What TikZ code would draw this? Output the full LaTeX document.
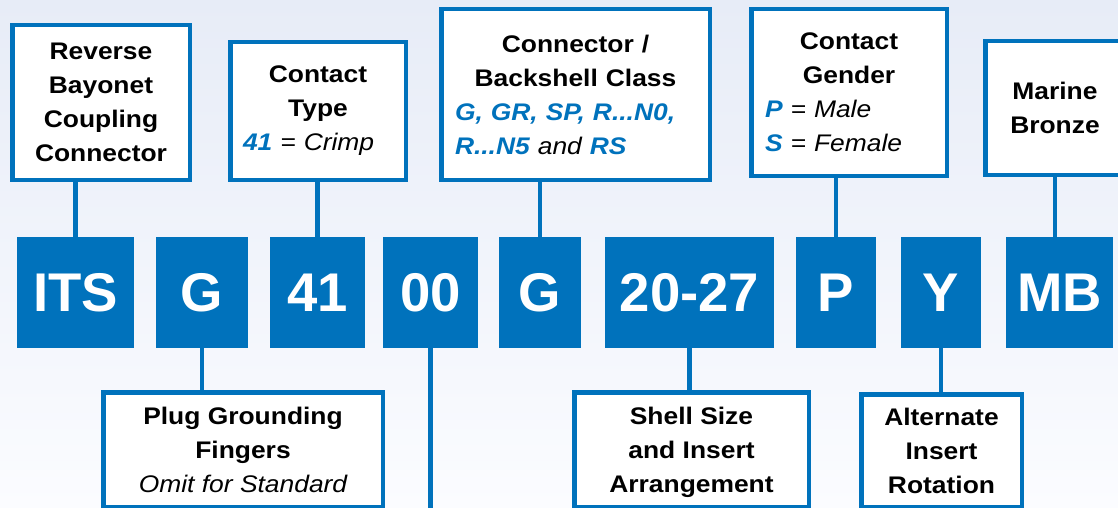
\documentclass[tikz,border=0pt]{standalone}
\usepackage{fontspec}
\usepackage{tikz}
\setmainfont{Liberation Sans}
\newfontfamily\labelFamily{Liberation Sans}[FakeStretch=1.1]
\definecolor{codeBlue}{RGB}{0,114,188}
\definecolor{bgTop}{RGB}{231,236,247}
\definecolor{bgBottom}{RGB}{251,252,255}
\tikzstyle{sheet} = [x = 1pt, y = -1pt]
\tikzstyle{codeStyle} = [fill=codeBlue, text=white, inner sep=0pt, minimum height=111pt, font=\fontsize{54.5}{60}\selectfont\bfseries]
\tikzstyle{labelStyle} = [draw=codeBlue, fill=white, line width=4.5pt, inner sep=0pt, align=center, font=\labelFamily\fontsize{24}{34}\selectfont\bfseries]
\tikzstyle{linkLine} = [draw=codeBlue, line width=4.5pt]
\newcommand{\hi}[1]{{\bfseries\color{codeBlue}#1}}
\newcommand{\codeBox}[4]{\node [codeStyle, minimum width=#3pt] (#1) at (#2, 292.5) {#4};}
\newcommand{\labelBox}[7][]{\node [labelStyle, minimum width=#5pt, minimum height=#6pt, #1] (#2) at (#3, #4) {#7};}
\newcommand{\upLink}[2]{\draw [linkLine] (#1.north) -- (#1.north |- #2.south);}
\newcommand{\downLink}[2]{\draw [linkLine] (#1.south) -- (#1.south |- #2.north);}

\begin{document}
\begin{tikzpicture}[sheet]
  \useasboundingbox (0,0) rectangle (1118,508);
  \shade [top color=bgTop, bottom color=bgBottom] (0,0) rectangle (1118,508);
  \clip (0,0) rectangle (1118,508);

  % part number codes
  \codeBox{itsCode}{75.5}{117}{ITS}
  \codeBox{groundCode}{202}{92}{G}
  \codeBox{typeCode}{317.5}{95}{41}
  \codeBox{zeroCode}{430.5}{95}{00}
  \codeBox{classCode}{540}{82}{G}
  \codeBox{sizeCode}{689.5}{169}{20-27}
  \codeBox{genderCode}{836}{80}{P}
  \codeBox{rotationCode}{941}{80}{Y}
  \codeBox{materialCode}{1059.5}{107}{MB}

  % labels
  \labelBox{reverseLabel}{101}{102.5}{177.5}{154.5}{Reverse\\Bayonet\\Coupling\\Connector}
  \labelBox[text width=150pt]{typeLabel}{318}{111}{175.5}{137.5}{Contact\\Type\par{\raggedright\mdseries\itshape\hi{41} = Crimp\par}}
  \labelBox[text width=241pt]{classLabel}{575.5}{94.5}{268.5}{170.5}{Connector /\\Backshell Class\par{\raggedright\mdseries\itshape\hi{G, GR, SP, R...N0,}\\\hi{R...N5} and \hi{RS}\par}}
  \labelBox[text width=168pt]{genderLabel}{849}{92.5}{195.5}{166.5}{Contact\\Gender\par{\raggedright\mdseries\itshape\hi{P} = Male\\\hi{S} = Female\par}}
  \labelBox{marineLabel}{1055}{108}{139.5}{133.5}{Marine\\Bronze}
  \labelBox{plugLabel}{243}{449.5}{279.5}{114.5}{Plug Grounding\\Fingers\\{\mdseries\itshape Omit for Standard}}
  \labelBox[text depth=0pt]{shellLabel}{691.5}{449.5}{234.5}{114.5}{Shell Size\\and Insert\\Arrangement}
  \labelBox{rotationLabel}{941.5}{450.5}{160.5}{112.5}{Alternate\\Insert\\Rotation}

  % links
  \coordinate (zeroEnd) at (zeroCode.south |- 0,520);
  \draw [linkLine] (zeroCode.south) -- (zeroEnd);
  \upLink{itsCode}{reverseLabel}
  \downLink{groundCode}{plugLabel}
  \upLink{typeCode}{typeLabel}
  \upLink{classCode}{classLabel}
  \downLink{sizeCode}{shellLabel}
  \upLink{genderCode}{genderLabel}
  \downLink{rotationCode}{rotationLabel}
  \draw [linkLine] (marineLabel.south) -- (marineLabel.south |- materialCode.north);
\end{tikzpicture}
\end{document}
